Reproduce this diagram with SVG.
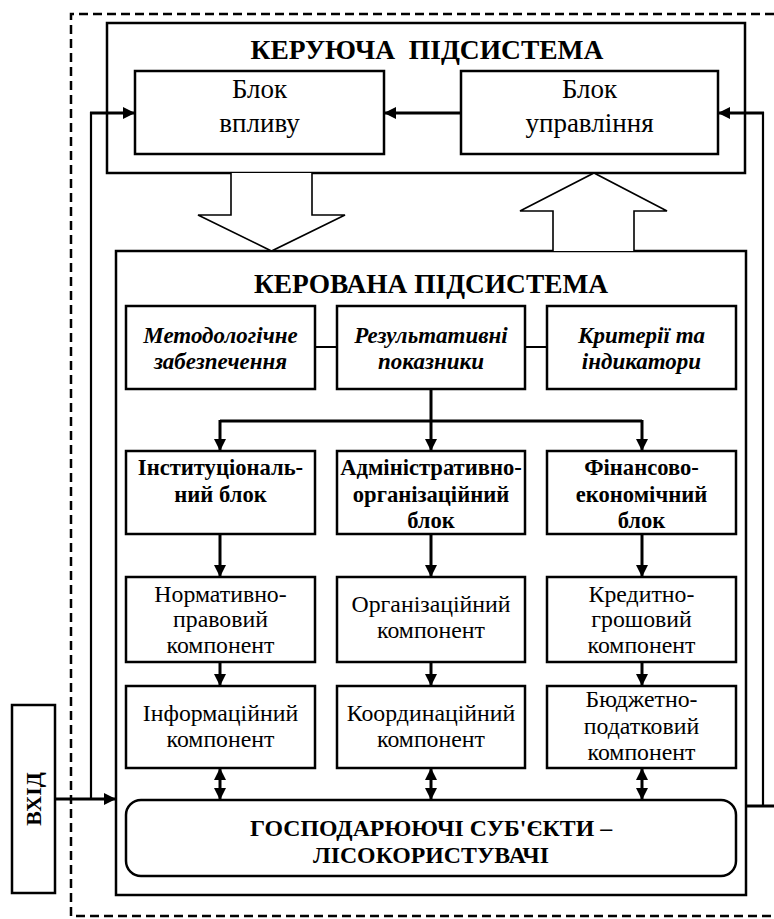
<svg xmlns="http://www.w3.org/2000/svg" width="774" height="919" viewBox="0 0 774 919">
<style>
.b{fill:#fff;stroke:#000;stroke-width:2.5}
.c{fill:none;stroke:#000;stroke-width:3}
.cv{fill:none;stroke:#000;stroke-width:2.2}
.ct{fill:none;stroke:#000;stroke-width:2}
.ha{fill:#fff;stroke:#000;stroke-width:1.6}
</style>
<defs>
<marker id="ah" viewBox="0 0 12 12" refX="12" refY="6" markerWidth="12" markerHeight="12" markerUnits="userSpaceOnUse" orient="auto-start-reverse">
<path d="M0,0 L12,6 L0,12 Z" fill="#000"/>
</marker>
</defs>
<rect width="774" height="919" fill="#fff"/>
<path d="M774,14 H71 V916 H774" fill="none" stroke="#000" stroke-width="2.5" stroke-dasharray="9 5"/>

<g font-family="Liberation Serif, serif" text-anchor="middle" fill="#000">
<g id="keruyucha">
<rect class="b" x="107" y="23" width="638" height="150"/>
<text x="427" y="59" font-size="27.5" font-weight="bold" xml:space="preserve">КЕРУЮЧА  ПІДСИСТЕМА</text>
</g>
<g id="blok-vplyvu" font-size="27">
<rect class="b" x="135" y="71" width="249" height="83"/>
<text x="259.5" y="98">Блок</text>
<text x="259.5" y="132">впливу</text>
</g>
<g id="blok-upravlinnya" font-size="27">
<rect class="b" x="461" y="71" width="257" height="83"/>
<text x="589.5" y="98">Блок</text>
<text x="589.5" y="132">управління</text>
</g>

<g id="kerovana">
<rect class="b" x="116" y="251" width="630" height="644"/>
<text x="431" y="293" font-size="27.4" font-weight="bold">КЕРОВАНА ПІДСИСТЕМА</text>
</g>

<g id="connectors">
<path class="ha" d="M231,173 V215 H198 L271.5,251 L345,215 H312 V173"/>
<path class="ha" d="M553,251 V211 H520 L594,173 L667,211 H634 V251"/>
<path class="c" d="M461,113 H384" marker-end="url(#ah)"/>
<path class="cv" d="M91,800 V112"/>
<path class="c" d="M90,113 H135" marker-end="url(#ah)"/>
<path class="cv" d="M763,807 V112"/>
<path class="c" d="M764,113 H718" marker-end="url(#ah)"/>
<path class="c" d="M746,806 H774"/>
<path class="c" d="M55,799 H116" marker-end="url(#ah)"/>
<path class="ct" d="M315,347 H337 M525,347 H547"/>
<path class="c" d="M431,389 V421 M220,421 H642"/>
<path class="c" d="M220,420 V451" marker-end="url(#ah)"/>
<path class="c" d="M431,420 V451" marker-end="url(#ah)"/>
<path class="c" d="M642,420 V451" marker-end="url(#ah)"/>
<path class="c" d="M220,534 V577" marker-end="url(#ah)"/>
<path class="c" d="M431,534 V577" marker-end="url(#ah)"/>
<path class="c" d="M642,534 V577" marker-end="url(#ah)"/>
<path class="c" d="M220,662 V686" marker-end="url(#ah)"/>
<path class="c" d="M431,662 V686" marker-end="url(#ah)"/>
<path class="c" d="M642,662 V686" marker-end="url(#ah)"/>
<path class="c" d="M220,768 V800" marker-start="url(#ah)" marker-end="url(#ah)"/>
<path class="c" d="M431,768 V800" marker-start="url(#ah)" marker-end="url(#ah)"/>
<path class="c" d="M642,768 V800" marker-start="url(#ah)" marker-end="url(#ah)"/>
</g>

<g font-size="23" font-weight="bold" font-style="italic">
<g id="metodologichne">
<rect class="b" x="126" y="306" width="189" height="83"/>
<text x="220.5" y="343">Методологічне</text>
<text x="220.5" y="369">забезпечення</text>
</g>
<g id="rezultatyvni">
<rect class="b" x="337" y="306" width="188" height="83"/>
<text x="431" y="343">Результативні</text>
<text x="431" y="369">показники</text>
</g>
<g id="kryteriyi">
<rect class="b" x="547" y="306" width="189" height="83"/>
<text x="641.5" y="343">Критерії та</text>
<text x="641.5" y="369">індикатори</text>
</g>
</g>

<g font-size="22.6" font-weight="bold">
<g id="instytutsionalnyi">
<rect class="b" x="126" y="451" width="189" height="83"/>
<text x="220.5" y="475">Інституціональ-</text>
<text x="220.5" y="502">ний блок</text>
</g>
<g id="administratyvno">
<rect class="b" x="337" y="451" width="188" height="83"/>
<text x="431" y="475">Адміністративно-</text>
<text x="431" y="502">організаційний</text>
<text x="431" y="528">блок</text>
</g>
<g id="finansovo">
<rect class="b" x="547" y="451" width="189" height="83"/>
<text x="641.5" y="475">Фінансово-</text>
<text x="641.5" y="502">економічний</text>
<text x="641.5" y="528">блок</text>
</g>
</g>

<g font-size="23.8">
<g id="normatyvno">
<rect class="b" x="126" y="577" width="189" height="85"/>
<text x="220.5" y="602">Нормативно-</text>
<text x="220.5" y="627">правовий</text>
<text x="220.5" y="653">компонент</text>
</g>
<g id="orhanizatsiinyi">
<rect class="b" x="337" y="577" width="188" height="85"/>
<text x="431" y="612">Організаційний</text>
<text x="431" y="638">компонент</text>
</g>
<g id="kredytno">
<rect class="b" x="547" y="577" width="189" height="85"/>
<text x="641.5" y="602">Кредитно-</text>
<text x="641.5" y="627">грошовий</text>
<text x="641.5" y="653">компонент</text>
</g>
<g id="informatsiinyi">
<rect class="b" x="126" y="686" width="189" height="82"/>
<text x="220.5" y="721">Інформаційний</text>
<text x="220.5" y="747">компонент</text>
</g>
<g id="koordynatsiinyi">
<rect class="b" x="337" y="686" width="188" height="82"/>
<text x="431" y="721">Координаційний</text>
<text x="431" y="747">компонент</text>
</g>
<g id="biudzhetno">
<rect class="b" x="547" y="686" width="189" height="82"/>
<text x="641.5" y="707">Бюджетно-</text>
<text x="641.5" y="734">податковий</text>
<text x="641.5" y="760">компонент</text>
</g>
</g>

<g id="hospodaryuyuchi" font-size="23.8" font-weight="bold">
<rect class="b" x="126" y="800" width="610" height="76" rx="15" ry="15"/>
<text x="431" y="836">ГОСПОДАРЮЮЧІ СУБ'ЄКТИ –</text>
<text x="431" y="863">ЛІСОКОРИСТУВАЧІ</text>
</g>

<g id="vkhid" font-size="22" font-weight="bold">
<rect class="b" x="12" y="705" width="43" height="188"/>
<text x="0" y="0" transform="translate(41,799) rotate(-90)">ВХІД</text>
</g>
</g>
</svg>
